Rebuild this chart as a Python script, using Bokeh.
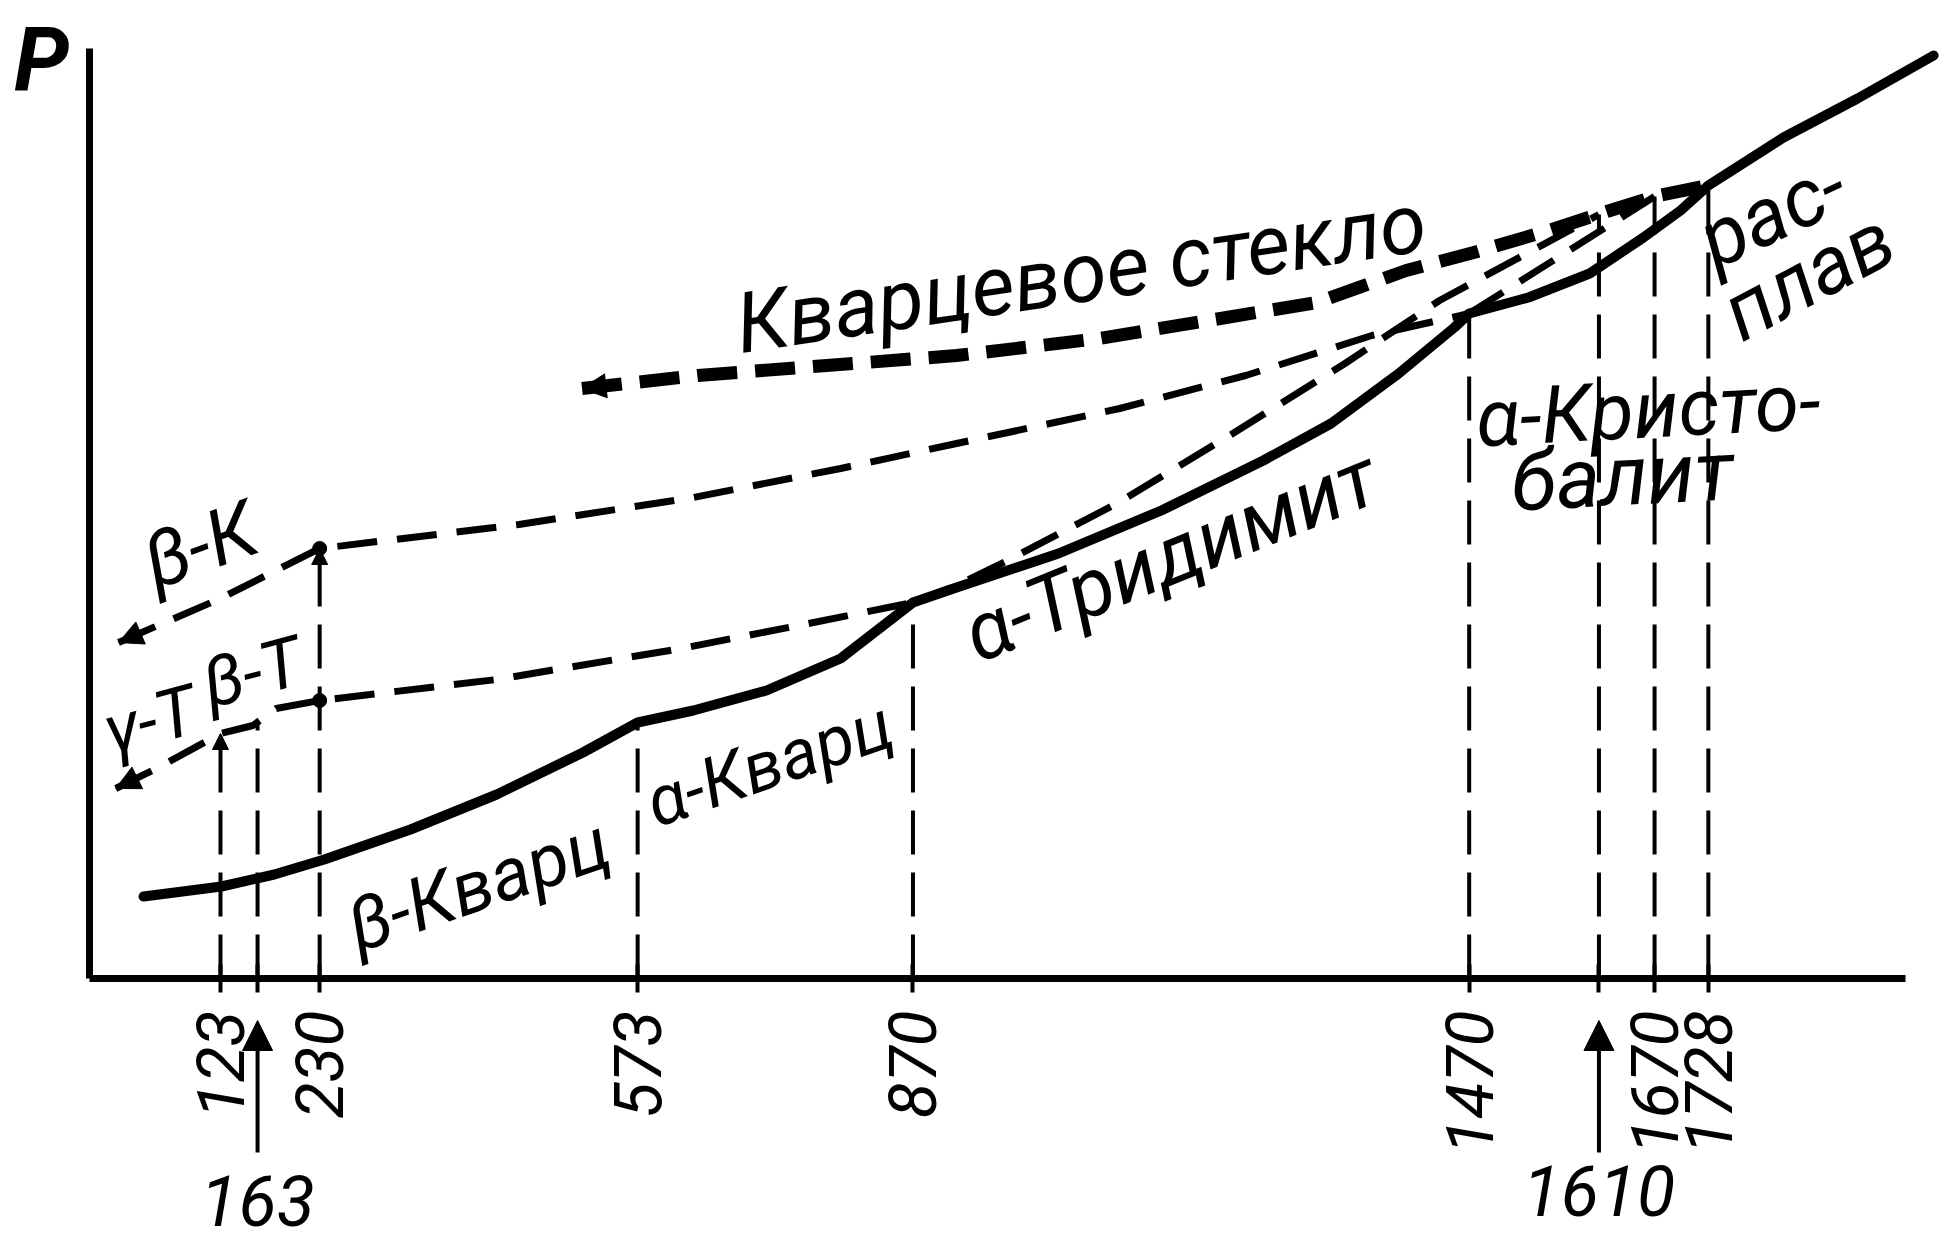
from math import pi, radians

from bokeh.core.properties import value
from bokeh.embed import file_html
from bokeh.models import (Arrow, ColumnDataSource, FixedTicker, LinearAxis,
                          NormalHead, Range1d)
from bokeh.plotting import figure
from bokeh.resources import INLINE

FONT = "Roboto"

# Phase-transition temperatures of SiO2, deg C (axis ticks)
transition_T = [123, 163, 230, 573, 870, 1470, 1610, 1670, 1728]
# Vapour pressure where each transition line meets its curve (relative units)
transition_P = [24.5, 25.6, 43.0, 25.6, 37.6, 66.5, 76.4, 78.2, 79.3]
# Transitions labelled below the axis with an arrow
arrow_T = [163, 1610]

# Stable curve: beta-quartz -> alpha-quartz -> alpha-tridymite -> alpha-cristobalite -> melt
stable_T = [40, 124, 181, 235, 328, 421, 514, 573, 633, 712, 792, 870, 917, 1027,
            1138, 1248, 1321, 1394, 1454, 1470, 1534, 1600, 1658, 1698, 1728,
            1809, 1889, 1971]
stable_P = [8.2, 9.2, 10.4, 11.9, 14.9, 18.4, 22.6, 25.6, 26.8, 28.8, 32.0, 37.6,
            39.1, 42.5, 46.8, 51.8, 55.5, 60.5, 65.1, 66.5, 68.1, 70.5, 74.1, 76.8,
            79.3, 84.1, 88.0, 92.3]

# Metastable tridymite (gamma-T, beta-T, alpha-T up to 870)
tridymite_T = [10, 56, 123, 158, 183, 230, 421, 620, 752, 870]
tridymite_P = [19.0, 21.1, 24.5, 25.3, 27.0, 27.8, 29.9, 33.0, 35.4, 37.6]

# Metastable cristobalite (beta-K below 230, alpha-K up to 1470)
cristobalite_T = [13, 123, 230, 445, 633, 792, 917, 1093, 1229, 1365, 1470]
cristobalite_P = [33.6, 38.0, 43.0, 45.4, 48.1, 51.0, 53.5, 57.0, 60.3, 64.3, 66.5]

# Metastable quartz above 870, up to its melting at 1610
quartz_T = [870, 917, 972, 1090, 1215, 1336, 1438, 1610]
quartz_P = [37.6, 39.3, 41.8, 47.5, 54.5, 61.5, 67.8, 76.4]

# Metastable tridymite above 1470, up to its melting at 1670
tridymite_hi_T = [1470, 1670]
tridymite_hi_P = [66.5, 78.2]

# Quartz glass (supercooled melt) below 1728
glass_T = [513, 638, 777, 917, 1071, 1306, 1402, 1475, 1556, 1622, 1674, 1728]
glass_P = [59.0, 60.3, 61.3, 62.3, 64.0, 67.6, 70.8, 72.6, 74.8, 76.8, 78.3, 79.3]

T_origin, T_axis_end, P_axis_top = -18, 1941, 93.0

p = figure(width=1946, height=1258,
           x_range=Range1d(-114.3, 1984.9), y_range=Range1d(-28.0, 97.8),
           output_backend="svg", toolbar_location=None, min_border=0,
           x_axis_location=None, y_axis_location=None)
p.outline_line_color = None
p.background_fill_color = "white"
p.border_fill_color = "white"
p.grid.visible = False

# axes drawn through the origin
xaxis = LinearAxis(fixed_location=0, bounds=(T_origin, T_axis_end),
                   ticker=FixedTicker(ticks=transition_T, minor_ticks=[]))
xaxis.major_label_overrides = {t: "" for t in arrow_T}
xaxis.axis_line_width = 7
xaxis.major_tick_line_width = 4
xaxis.major_tick_in = 14
xaxis.major_tick_out = 14
xaxis.minor_tick_line_color = None
xaxis.major_label_orientation = pi / 2
xaxis.major_label_standoff = 18
xaxis.major_label_text_font = FONT
xaxis.major_label_text_font_style = "italic"
xaxis.major_label_text_font_size = "66px"
xaxis.major_label_text_color = "black"
p.add_layout(xaxis, "below")

yaxis = LinearAxis(fixed_location=T_origin, bounds=(0, P_axis_top),
                   ticker=FixedTicker(ticks=[], minor_ticks=[]))
yaxis.axis_line_width = 7
yaxis.major_tick_line_color = None
yaxis.minor_tick_line_color = None
yaxis.major_label_text_font_size = "0px"
p.add_layout(yaxis, "left")

# vertical transition lines
p.segment(x0=transition_T, y0=[0] * len(transition_T),
          x1=transition_T, y1=transition_P,
          line_width=4, line_color="black", line_dash="44 18")

# metastable branches
for xs, ys in [(tridymite_T, tridymite_P), (cristobalite_T, cristobalite_P),
               (quartz_T, quartz_P), (tridymite_hi_T, tridymite_hi_P)]:
    p.line(xs, ys, line_width=7, line_color="black", line_dash="40 20")

# quartz glass
p.line(glass_T, glass_P, line_width=13, line_color="black", line_dash="40 18")

# stable curve
p.line(stable_T, stable_P, line_width=10, line_color="black",
       line_join="round", line_cap="round")

# points where the branches change at 230
p.scatter([tridymite_T[5], cristobalite_T[2]], [tridymite_P[5], cristobalite_P[2]],
          size=14, color="black")

# arrowheads at the low-temperature ends of the metastable branches
head = dict(fill_color="black", line_color="black")
for xs, ys in [(cristobalite_T, cristobalite_P), (tridymite_T, tridymite_P),
               (glass_T, glass_P)]:
    p.add_layout(Arrow(x_start=xs[1], y_start=ys[1], x_end=xs[0], y_end=ys[0],
                       line_alpha=0, end=NormalHead(size=24, **head)))

# arrowheads on the 123 and 230 lines
for i in (0, 2):
    p.add_layout(Arrow(x_start=transition_T[i], y_start=transition_P[i] - 4,
                       x_end=transition_T[i], y_end=transition_P[i],
                       line_alpha=0, end=NormalHead(size=16, **head)))

# labels under the axis with arrows
for t in arrow_T:
    p.add_layout(Arrow(x_start=t, y_start=-17.4, x_end=t, y_end=-4.2,
                       line_width=4, line_color="black",
                       end=NormalHead(size=30, **head)))
p.text(x=arrow_T, y=[-22.2, -21.2], text=[str(t) for t in arrow_T],
       text_font=value(FONT), text_font_style="italic", text_font_size="70px",
       text_align="center", text_baseline="middle", text_color="black")

# pressure axis symbol
p.text(x=[-70], y=[91.8], text=["P"], text_font=value(FONT),
       text_font_style="bold italic", text_font_size="88px",
       text_align="center", text_baseline="middle", text_color="black")

# inscriptions
labels = ColumnDataSource(dict(
    x=[1051, 401, 715, 1148, 1663, 1635, 1797, 1836, 101, 47, 157],
    y=[70.5, 9.4, 21.5, 42.3, 56.8, 50.2, 76.6, 70.3, 43.3, 25.8, 30.6],
    text=["Кварцевое стекло", "β-Кварц", "α-Кварц", "α-Тридимит",
          "α-Кристо-", "балит", "рас-", "плав", "β-К", "γ-Т", "β-Т"],
    angle=[radians(a) for a in [8.5, 19, 19, 22, 3, 3, 25, 28, 20, 15, 15]],
    size=["84px", "74px", "70px", "82px", "80px", "84px", "82px", "82px",
          "78px", "70px", "70px"],
))
p.text(x="x", y="y", text="text", angle="angle", text_font_size="size",
       source=labels, text_font=value(FONT), text_font_style="italic",
       text_align="center", text_baseline="middle", text_color="black")

open("out.html", "w").write(file_html(p, INLINE))
